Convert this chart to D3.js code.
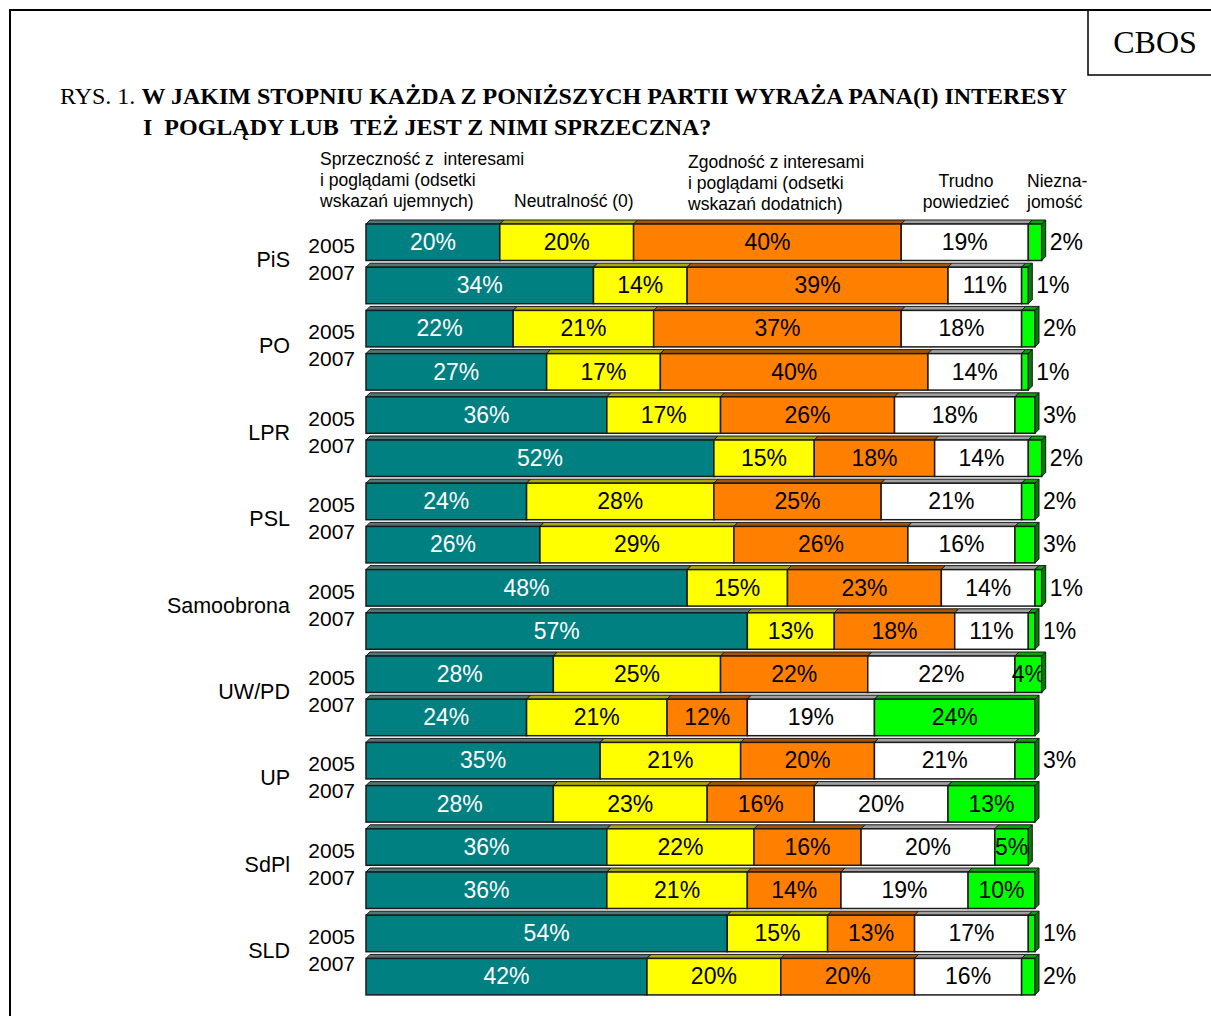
<!DOCTYPE html>
<html>
<head>
<meta charset="utf-8">
<script src="https://cdn.jsdelivr.net/npm/d3@7"></script>
<style>
  body { margin: 0; background: #fff; }
  text { white-space: pre; }
</style>
</head>
<body>
<script>
width = 1211
height = 1016

// data, bar order: party x year
parties = ["PiS", "PO", "LPR", "PSL", "Samoobrona", "UW/PD", "UP", "SdPl", "SLD"]
years = ["2005", "2007"]
seriesNames = ["Sprzeczność", "Neutralność", "Zgodność", "Trudno powiedzieć", "Nieznajomość"]
negative = [20, 34, 22, 27, 36, 52, 24, 26, 48, 57, 28, 24, 35, 28, 36, 36, 54, 42]
neutral  = [20, 14, 21, 17, 17, 15, 28, 29, 15, 13, 25, 21, 21, 23, 22, 21, 15, 20]
positive = [40, 39, 37, 40, 26, 18, 25, 26, 23, 18, 22, 12, 20, 16, 16, 14, 13, 20]
hard     = [19, 11, 18, 14, 18, 14, 21, 16, 14, 11, 22, 19, 21, 20, 20, 19, 17, 16]
unknown  = [2, 1, 2, 1, 3, 2, 2, 3, 1, 1, 4, 24, 3, 13, 5, 10, 1, 2]

colors = ["#008080", "#ffff00", "#ff8000", "#ffffff", "#00ff00"]
topColors = ["#4f7777", "#a9a900", "#a95500", "#a0a0a0", "#00a800"]
sideColors = ["#005050", "#9a9a00", "#9a4c00", "#909090", "#008000"]
textColors = ["#ffffff", "#000000", "#000000", "#000000", "#000000"]

series = [negative, neutral, positive, hard, unknown]
bars = []
parties.forEach(function(p, i) {
  years.forEach(function(yr, j) {
    var k = i * 2 + j
    var vals = series.map(function(s) { return s[k] })
    var acc = 0
    var segs = vals.map(function(v, s) {
      var seg = {s: s, v: v, x0: acc, x1: acc + v}
      acc += v
      return seg
    })
    bars.push({key: p + yr, party: p, year: yr, segs: segs})
  })
})

var dx = 4, dy = 4, front = 36.5
var serif = "'Times New Roman', 'Liberation Serif', serif"

svg = d3.select("body")
  .append("svg")
  .attr("width", width)
  .attr("height", height)
  .style("font-family", "Arial, 'Liberation Sans', sans-serif")

x = d3.scaleLinear().domain([0, 100]).range([366, 1035])
y = d3.scaleBand().domain(bars.map(function(d) { return d.key }))
  .range([224, 224 + 18 * 43.2])

// page frame
svg.append("path")
  .attr("d", "M10," + height + "V10H" + width)
  .attr("fill", "none").attr("stroke", "#000").attr("stroke-width", 2)
svg.append("path")
  .attr("d", "M1088,10V75H" + width)
  .attr("fill", "none").attr("stroke", "#000").attr("stroke-width", 1.5)
svg.append("text")
  .attr("x", 1155).attr("y", 53)
  .attr("text-anchor", "middle")
  .style("font-family", serif)
  .style("font-size", "32px")
  .text("CBOS")

// title
title = svg.append("text")
  .attr("x", 60).attr("y", 104)
  .style("font-family", serif)
  .style("font-size", "24px")
title.append("tspan").text("RYS. 1. ")
title.append("tspan").style("font-weight", "bold")
  .text("W JAKIM STOPNIU KAŻDA Z PONIŻSZYCH PARTII WYRAŻA PANA(I) INTERESY")
svg.append("text")
  .attr("x", 143).attr("y", 135)
  .style("font-family", serif)
  .style("font-size", "24px")
  .style("font-weight", "bold")
  .text("I  POGLĄDY LUB  TEŻ JEST Z NIMI SPRZECZNA?")

// column headers
headers = [
  {x: 320, y: 165, a: "start", t: "Sprzeczność z  interesami"},
  {x: 320, y: 186, a: "start", t: "i poglądami (odsetki"},
  {x: 320, y: 207, a: "start", t: "wskazań ujemnych)"},
  {x: 514, y: 207, a: "start", t: "Neutralność (0)"},
  {x: 688, y: 168, a: "start", t: "Zgodność z interesami"},
  {x: 688, y: 189, a: "start", t: "i poglądami (odsetki"},
  {x: 688, y: 210, a: "start", t: "wskazań dodatnich)"},
  {x: 966, y: 187, a: "middle", t: "Trudno"},
  {x: 966, y: 208, a: "middle", t: "powiedzieć"},
  {x: 1027, y: 187, a: "start", t: "Niezna-"},
  {x: 1027, y: 208, a: "start", t: "jomość"}
]
svg.selectAll("text.hdr")
  .data(headers)
  .enter()
  .append("text")
  .attr("class", "hdr")
  .attr("x", function(d) { return d.x })
  .attr("y", function(d) { return d.y })
  .attr("text-anchor", function(d) { return d.a })
  .style("font-size", "17.5px")
  .text(function(d) { return d.t })

// party + year labels
svg.selectAll("text.party")
  .data(parties)
  .enter()
  .append("text")
  .attr("class", "party")
  .attr("x", 290)
  .attr("y", function(d) { return y(d + "2005") + 43 })
  .attr("text-anchor", "end")
  .style("font-size", "21.5px")
  .text(function(d) { return d })

svg.selectAll("text.year")
  .data(bars)
  .enter()
  .append("text")
  .attr("class", "year")
  .attr("x", 355)
  .attr("y", function(d) { return d.year == "2005" ? y(d.key) + 29 : y(d.key) - 43.2 + 56 })
  .attr("text-anchor", "end")
  .style("font-size", "21px")
  .text(function(d) { return d.year })

// bars
g = svg.selectAll("g.bar")
  .data(bars)
  .enter()
  .append("g")
  .attr("class", "bar")
  .attr("transform", function(d) { return "translate(0," + y(d.key) + ")" })

seg = g.selectAll("g.seg")
  .data(function(d) { return d.segs })
  .enter()
  .append("g")
  .attr("class", "seg")

seg.append("path")
  .attr("d", function(d) {
    var a = x(d.x0), b = x(d.x1)
    return "M" + a + ",0L" + (a + dx) + "," + (-dy) + "L" + (b + dx) + "," + (-dy) + "L" + b + ",0Z"
  })
  .attr("fill", function(d) { return topColors[d.s] })
  .attr("stroke", "#1a1a1a").attr("stroke-width", 1)

seg.append("rect")
  .attr("x", function(d) { return x(d.x0) })
  .attr("y", 0)
  .attr("width", function(d) { return x(d.x1) - x(d.x0) })
  .attr("height", front)
  .attr("fill", function(d) { return colors[d.s] })
  .attr("stroke", "#1a1a1a").attr("stroke-width", 1.5)

// right side face of each bar
g.append("path")
  .attr("d", function(d) {
    var b = x(d.segs[4].x1)
    return "M" + b + ",0L" + (b + dx) + "," + (-dy) + "L" + (b + dx) + "," + (front - dy) + "L" + b + "," + front + "Z"
  })
  .attr("fill", sideColors[4])
  .attr("stroke", "#1a1a1a").attr("stroke-width", 1)

// value labels
seg.append("text")
  .attr("x", function(d) {
    if (d.s == 4 && d.v < 4) return x(d.x1) + dx + 4
    return (x(d.x0) + x(d.x1)) / 2
  })
  .attr("y", 26)
  .attr("text-anchor", function(d) { return (d.s == 4 && d.v < 4) ? "start" : "middle" })
  .attr("fill", function(d) { return (d.s == 4 && d.v < 4) ? "#000" : textColors[d.s] })
  .style("font-size", "23px")
  .text(function(d) { return d.v + "%" })
</script>
</body>
</html>
